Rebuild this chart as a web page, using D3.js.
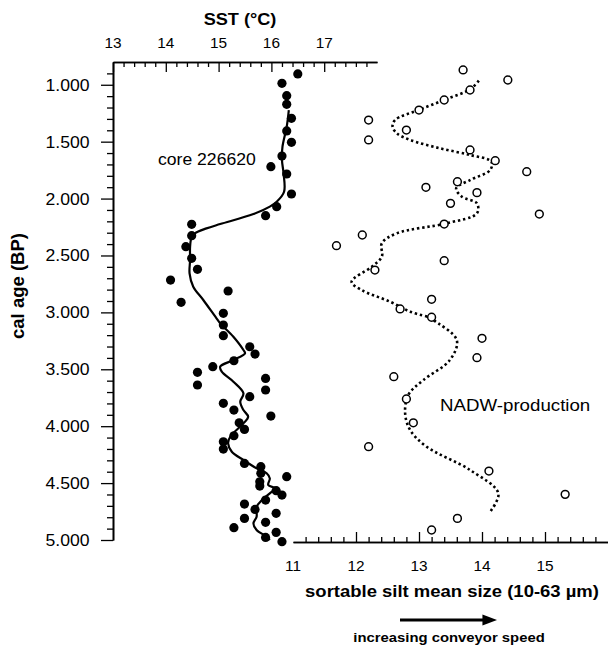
<!DOCTYPE html>
<html><head><meta charset="utf-8">
<script src="https://cdn.jsdelivr.net/npm/d3@7"></script>
<style>body{margin:0;background:#fff}svg{display:block}text{font-family:Arial,"Liberation Sans",Helvetica,sans-serif;fill:#000}</style>
</head><body>
<script>
// ---- data ----
const sstAge = [905, 987, 1096, 1172, 1295, 1406, 1506, 1626, 1720, 1784, 1960, 2071, 2150, 2226, 2326, 2423, 2525, 2622, 2716, 2812, 2912, 3008, 3111, 3205, 3302, 3366, 3425, 3477, 3527, 3580, 3638, 3682, 3741, 3799, 3858, 3911, 3970, 4028, 4084, 4137, 4201, 4327, 4356, 4414, 4444, 4488, 4526, 4567, 4605, 4649, 4684, 4731, 4766, 4810, 4845, 4892, 4933, 4977, 5015];
const sstValue = [16.50, 16.20, 16.29, 16.29, 16.38, 16.29, 16.38, 16.20, 15.99, 16.29, 16.38, 16.10, 15.89, 14.49, 14.49, 14.38, 14.49, 14.60, 14.09, 15.18, 14.29, 15.09, 15.09, 15.09, 15.59, 15.69, 15.29, 14.89, 14.60, 15.89, 14.60, 15.89, 15.59, 15.09, 15.29, 15.99, 15.39, 15.49, 15.29, 15.09, 15.09, 15.49, 15.80, 15.80, 16.29, 15.78, 15.78, 16.09, 16.20, 15.89, 15.49, 15.69, 16.09, 15.49, 15.89, 15.29, 16.09, 15.89, 16.20];
const sstSmoothAge = [1222, 1368, 1544, 1661, 1778, 1940, 2028, 2071, 2136, 2224, 2262, 2305, 2335, 2423, 2540, 2657, 2774, 2891, 3052, 3096, 3214, 3331, 3360, 3419, 3477, 3521, 3609, 3711, 3785, 3858, 3917, 3975, 4093, 4151, 4224, 4297, 4370, 4414, 4458, 4517, 4546, 4590, 4649, 4708, 4795, 4854, 4912, 4971, 5000];
const sstSmoothValue = [16.33, 16.29, 16.21, 16.20, 16.23, 16.24, 16.10, 15.97, 15.66, 15.03, 14.77, 14.55, 14.49, 14.46, 14.46, 14.45, 14.52, 14.71, 14.96, 15.03, 15.28, 15.47, 15.50, 15.28, 15.03, 15.06, 15.28, 15.47, 15.41, 15.47, 15.56, 15.47, 15.22, 15.18, 15.25, 15.47, 15.72, 15.91, 15.97, 15.94, 16.07, 15.97, 15.82, 15.72, 15.72, 15.66, 15.72, 15.91, 15.97];
const siltAge = [870, 958, 1046, 1134, 1222, 1310, 1398, 1485, 1573, 1667, 1764, 1852, 1901, 1948, 2042, 2136, 2224, 2320, 2414, 2546, 2628, 2885, 2970, 3043, 3228, 3398, 3565, 3761, 3970, 4180, 4394, 4599, 4810, 4912];
const siltValue = [13.70, 14.41, 13.81, 13.40, 13.00, 12.20, 12.80, 12.20, 13.81, 14.21, 14.71, 13.61, 13.11, 13.92, 13.50, 14.91, 13.40, 12.10, 11.69, 13.40, 12.30, 13.20, 12.70, 13.20, 14.00, 13.92, 12.60, 12.80, 12.91, 12.20, 14.11, 15.32, 13.61, 13.20];
const siltSmoothAge = [964, 1040, 1125, 1216, 1310, 1368, 1427, 1485, 1558, 1617, 1676, 1749, 1837, 1910, 1983, 2042, 2130, 2217, 2305, 2393, 2511, 2599, 2731, 2804, 2906, 2994, 3052, 3067, 3243, 3419, 3594, 3726, 3887, 4034, 4180, 4385, 4590, 4751];
const siltSmoothValue = [13.95, 13.81, 13.44, 13.02, 12.62, 12.58, 12.65, 12.86, 13.33, 13.81, 14.15, 14.13, 13.81, 13.59, 13.68, 13.92, 13.92, 13.44, 12.65, 12.41, 12.41, 12.25, 11.93, 12.09, 12.54, 12.86, 13.20, 13.23, 13.60, 13.49, 13.07, 12.83, 12.78, 12.86, 13.12, 13.81, 14.26, 14.13];
const ageTicks = [1000, 1500, 2000, 2500, 3000, 3500, 4000, 4500, 5000];
const ageTickLabels = ["1.000", "1.500", "2.000", "2.500", "3.000", "3.500", "4.000", "4.500", "5.000"];
const sstTicks = [13, 14, 15, 16, 17];
const siltTicks = [11, 12, 13, 14, 15];
const texts = {
  sstTitle: "SST (°C)", ageTitle: "cal age (BP)", siltTitle: "sortable silt mean size (10-63 µm)",
  core: "core 226620", nadw: "NADW-production", speed: "increasing conveyor speed"
};

// ---- chart ----
const W = 608, H = 648, SX = 1.1;
const svg = d3.select("body").append("svg").attr("width", W).attr("height", H);
const y = d3.scaleLinear().domain([800, 5000]).range([62, 540]);
const xS = d3.scaleLinear().domain([13, 18]).range([113, 377]);
const xT = d3.scaleLinear().domain([11, 16]).range([293, 608]);

function label(x, yy, str, size, weight, anchor, rot) {
  const t = svg.append("text")
    .attr("transform", `translate(${x},${yy})` + (rot ? ` rotate(${rot})` : ` scale(${SX},1)`))
    .attr("font-size", size).attr("font-weight", weight || "normal")
    .attr("text-anchor", anchor || "start").text(str);
  return t;
}
const axStyle = g => { g.selectAll("path,line").attr("stroke", "#000").attr("stroke-width", 1.3); g.select(".domain").attr("stroke-width", 1.6); g.selectAll("text").remove(); };

// left age axis
const ageMinor = d3.range(900, 5001, 100).filter(v => v % 500 !== 0);
svg.append("g").attr("transform", "translate(113,0)")
  .call(d3.axisLeft(y).tickValues(ageMinor).tickSize(6).tickSizeOuter(0).tickFormat("")).call(axStyle);
svg.append("g").attr("transform", "translate(113,0)")
  .call(d3.axisLeft(y).tickValues(ageTicks).tickSize(12).tickSizeOuter(0).tickFormat("")).call(axStyle);
ageTicks.forEach((v, i) => label(89.5, y(v) + 6, ageTickLabels[i], 16, "normal", "end"));

// top SST axis (ticks pointing down into the plot)
const sstMinor = d3.range(0, 25).map(i => 13 + i * 0.2).filter(v => Math.abs(v - Math.round(v)) > 0.01);
svg.append("g").attr("transform", "translate(0,62)")
  .call(d3.axisBottom(xS).tickValues(sstMinor).tickSize(5).tickSizeOuter(0).tickFormat("")).call(axStyle);
svg.append("g").attr("transform", "translate(0,62)")
  .call(d3.axisBottom(xS).tickValues(sstTicks).tickSize(10).tickSizeOuter(0).tickFormat("")).call(axStyle);
sstTicks.forEach(v => label(xS(v), 48, String(v), 14, "normal", "middle"));

// bottom silt axis (ticks pointing up)
const siltMinor = d3.range(1, 25).map(i => 11 + i * 0.2).filter(v => Math.abs(v - Math.round(v)) > 0.01);
svg.append("g").attr("transform", "translate(0,542)")
  .call(d3.axisTop(xT).tickValues(siltMinor).tickSize(5).tickSizeOuter(0).tickFormat("")).call(axStyle);
svg.append("g").attr("transform", "translate(0,542)")
  .call(d3.axisTop(xT).tickValues(siltTicks.filter(v => v > 11)).tickSize(10).tickSizeOuter(0).tickFormat("")).call(axStyle);
siltTicks.forEach(v => label(xT(v), 570.5, String(v), 14, "normal", "middle"));

// titles
label(240, 24.5, texts.sstTitle, 16.5, "bold", "middle");
label(24, 286, texts.ageTitle, 18.5, "bold", "middle", -90);
label(452, 597, texts.siltTitle, 16.8, "bold", "middle");
label(449, 641.5, texts.speed, 13.5, "bold", "middle");
label(158, 165, texts.core, 16, "normal", "start");
label(440, 411, texts.nadw, 17, "normal", "start");

// arrow
const arrowX = d3.scaleLinear().domain([0, 1]).range([400, 497]);
svg.append("line").attr("x1", arrowX(0)).attr("x2", arrowX(0.88)).attr("y1", 620).attr("y2", 620)
  .attr("stroke", "#000").attr("stroke-width", 3);
svg.append("path").attr("d", `M${arrowX(1)},620 L${arrowX(0.85)},614.5 L${arrowX(0.85)},625.5 Z`).attr("fill", "#000");

// SST smooth line + dots
const sstLine = d3.line().x(d => xS(d[1])).y(d => y(d[0])).curve(d3.curveCatmullRom.alpha(0.5));
svg.append("path").datum(d3.zip(sstSmoothAge, sstSmoothValue)).attr("d", sstLine)
  .attr("fill", "none").attr("stroke", "#000").attr("stroke-width", 2.2);
svg.append("g").selectAll("circle").data(d3.zip(sstAge, sstValue)).join("circle")
  .attr("cx", d => xS(d[1])).attr("cy", d => y(d[0])).attr("r", 4.6).attr("fill", "#000");

// silt dotted line + open circles
const siltLine = d3.line().x(d => xT(d[1])).y(d => y(d[0])).curve(d3.curveCatmullRom.alpha(0.5));
svg.append("path").datum(d3.zip(siltSmoothAge, siltSmoothValue)).attr("d", siltLine)
  .attr("fill", "none").attr("stroke", "#000").attr("stroke-width", 2.6).attr("stroke-dasharray", "2.4,2.8");
svg.append("g").selectAll("circle").data(d3.zip(siltAge, siltValue)).join("circle")
  .attr("cx", d => xT(d[1])).attr("cy", d => y(d[0])).attr("r", 3.9)
  .attr("fill", "#fff").attr("stroke", "#000").attr("stroke-width", 1.5);
</script>
</body></html>
